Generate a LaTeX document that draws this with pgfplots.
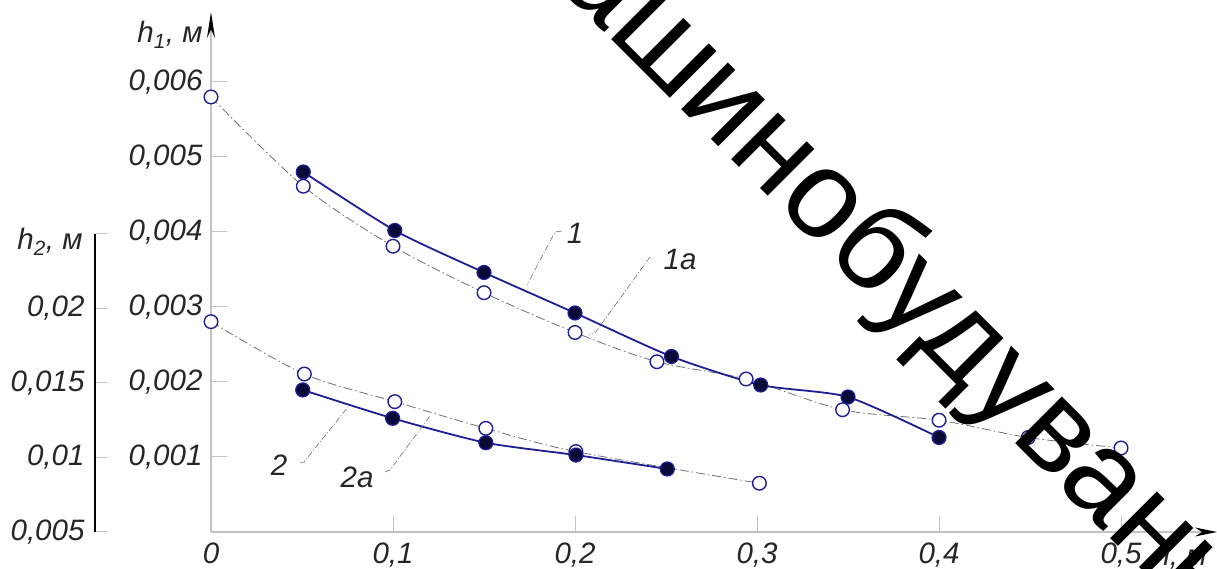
\documentclass[border=0pt]{standalone}
\usepackage{fontspec}
\setmainfont{Liberation Sans}
\usepackage{pgfplots}
\pgfplotsset{compat=1.18}
\usetikzlibrary{arrows.meta}
\definecolor{navy}{RGB}{30,30,150}
\definecolor{markfill}{RGB}{10,10,55}
\definecolor{axgrey}{RGB}{195,195,195}
\definecolor{dgrey}{RGB}{110,110,110}
\newcommand{\lab}{\itshape\fontsize{29.5}{31}\selectfont}

\pgfplotstableread{
x y
0.0507 0.00480
0.101 0.00402
0.150 0.00346
0.200 0.00292
0.253 0.00234
0.302 0.00196
0.350 0.00180
0.400 0.00126
}\serA
\pgfplotstableread{
x y
0.000 0.00580
0.0507 0.00461
0.100 0.00381
0.150 0.00319
0.200 0.00266
0.245 0.00227
0.294 0.00204
0.347 0.00163
0.400 0.00149
0.449 0.00126
0.500 0.00112
}\serAa
\pgfplotstableread{
x y
0.0504 0.01447
0.0998 0.01258
0.151 0.01095
0.2005 0.01013
0.2507 0.00920
}\serB
\pgfplotstableread{
x y
0.000 0.01902
0.0513 0.01553
0.101 0.01369
0.151 0.01191
0.2005 0.01036
0.3013 0.00825
}\serBa

\begin{document}
\begin{tikzpicture}[x=1pt,y=1pt]
\path[use as bounding box] (0pt,0pt) rectangle (1217pt,569pt);
\clip (0pt,0pt) rectangle (1217pt,569pt);

% h2 scale
\begin{axis}[
  at={(95pt,37pt)}, anchor=south west, scale only axis,
  width=13pt, height=298pt,
  xmin=0, xmax=1, ymin=0.005, ymax=0.025,
  axis y line=left, hide x axis,
  axis line style={black, line width=1.3pt, -},
  scaled ticks=false,
  ytick={0.005,0.01,0.015,0.02,0.025},
  yticklabels={{0,005},{0,01},{0,015},{0,02},{}},
  tick align=inside, major tick length=13pt,
  tick style={axgrey, line width=1pt},
  yticklabel style={font=\lab, text=black!85, xshift=-7pt},
]
\end{axis}

% main axis h1
\begin{axis}[
  at={(211pt,37pt)}, anchor=south west, scale only axis,
  width=1006pt, height=520pt,
  xmin=0, xmax=0.5527, ymin=0, ymax=0.006933,
  axis x line=bottom, axis y line=left,
  axis line style={axgrey, line width=1.2pt},
  x axis line style={-{Stealth[black,length=22pt,width=9pt]}},
  y axis line style={-{Stealth[black,length=26pt,width=8pt]}},
  scaled ticks=false,
  xtick={0,0.1,0.2,0.3,0.4,0.5},
  xticklabels={0,{0,1},{0,2},{0,3},{0,4},{0,5}},
  ytick={0.001,0.002,0.003,0.004,0.005,0.006},
  yticklabels={{0,001},{0,002},{0,003},{0,004},{0,005},{0,006}},
  tick align=inside, major tick length=16pt,
  tick style={axgrey, line width=1pt},
  ticklabel style={font=\lab, text=black!85},
  yticklabel style={xshift=-5pt},
  xticklabel style={yshift=-7pt},
  clip=false,
]
\addplot[dgrey, line width=0.8pt, dash pattern=on 9pt off 3pt on 1.5pt off 3pt, smooth, tension=0.5,
  mark=*, mark size=6.8pt, mark options={solid, fill=white, draw=navy, line width=1.4pt}]
  table[x=x,y=y] {\serAa};
\addplot[navy, line width=1.8pt, smooth, tension=0.4,
  mark=*, mark size=7pt, mark options={solid, fill=markfill, draw=navy, line width=1.2pt}]
  table[x=x,y=y] {\serA};
\end{axis}

% h2 data axis
\begin{axis}[
  at={(211pt,37pt)}, anchor=south west, scale only axis,
  width=1006pt, height=520pt,
  xmin=0, xmax=0.5527, ymin=0.005, ymax=0.039665,
  scaled ticks=false,
  hide axis, clip=false,
]
\addplot[dgrey, line width=0.8pt, dash pattern=on 9pt off 3pt on 1.5pt off 3pt, smooth, tension=0.5,
  mark=*, mark size=6.8pt, mark options={solid, fill=white, draw=navy, line width=1.4pt}]
  table[x=x,y=y] {\serBa};
\addplot[navy, line width=1.8pt, smooth, tension=0.4,
  mark=*, mark size=7pt, mark options={solid, fill=markfill, draw=navy, line width=1.2pt}]
  table[x=x,y=y] {\serB};
\end{axis}

% axis labels
\node[font=\lab, text=black!85] at (170pt,534pt) {h\textsubscript{1}, м};
\node[font=\lab, text=black!85] at (50pt,327pt) {h\textsubscript{2}, м};
\node[font=\lab, text=black!85] at (1185pt,12pt) {l, м};

% curve labels and leaders
\draw[dgrey, line width=0.6pt, dash pattern=on 6pt off 2pt on 1pt off 2pt] (562pt,338pt) -- (555pt,337pt) -- (527pt,284pt);
\node[font=\lab, text=black!85] at (575pt,336pt) {1};
\draw[dgrey, line width=0.6pt, dash pattern=on 6pt off 2pt on 1pt off 2pt] (650pt,312pt) -- (595pt,236pt) -- (589pt,234pt);
\node[font=\lab, text=black!85] at (680pt,309pt) {1a};
\draw[dgrey, line width=0.6pt, dash pattern=on 6pt off 2pt on 1pt off 2pt] (300pt,106pt) -- (304pt,107pt) -- (348pt,162pt);
\node[font=\lab, text=black!85] at (279pt,104pt) {2};
\draw[dgrey, line width=0.6pt, dash pattern=on 6pt off 2pt on 1pt off 2pt] (385pt,97pt) -- (390pt,99pt) -- (430pt,153pt);
\node[font=\lab, text=black!85] at (357pt,92pt) {2a};

% watermark
\node[rotate=-45, anchor=base west, inner sep=0pt, font=\fontsize{125}{125}\selectfont] at (495pt,646pt) {машинобудування};
\end{tikzpicture}
\end{document}
